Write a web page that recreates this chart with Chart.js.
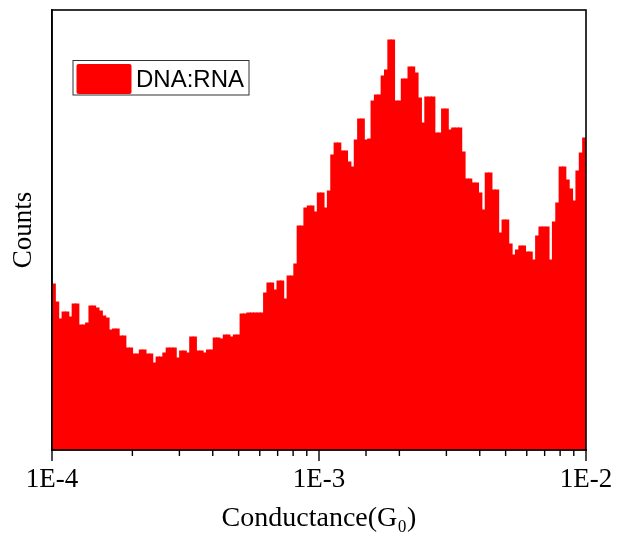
<!DOCTYPE html>
<html>
<head>
<meta charset="utf-8">
<style>
  html, body { margin: 0; padding: 0; background: #ffffff; }
  #wrap { width: 617px; height: 535px; position: relative; }
</style>
<script src="https://cdn.jsdelivr.net/npm/chart.js@4.4.0/dist/chart.umd.min.js"></script>
</head>
<body>
<div id="wrap"><canvas id="c" width="617" height="535"></canvas></div>
<script>
// ---- data ----
const seriesLabel = 'DNA:RNA';
const xAxisTitle = 'Conductance(G\u2080)';
const yAxisTitle = 'Counts';
const xMin = 1e-4;
const xMax = 1e-2;
const tickLabelFormat = (exp) => '1E' + exp;   // decade labels: 1E-4, 1E-3, 1E-2
const counts = [
  166,148,131,138,138,133,146,146,125,125,127,144,144,142,139,134,132,120,121,121,
  114,114,102,102,96,96,100,100,96,96,87,93,93,97,102,102,102,92,99,99,
  97,113,113,99,99,97,100,100,112,112,111,115,115,113,115,115,136,136,137,137,
  137,137,137,157,167,167,160,169,169,151,174,174,186,224,224,242,244,244,238,257,
  257,242,259,295,307,307,299,299,288,283,310,331,331,310,311,349,355,355,374,380,
  410,410,349,349,371,371,383,383,377,352,327,353,353,353,317,317,341,341,320,
  322,322,322,298,271,271,267,267,257,240,277,277,260,260,217,230,230,206,195,200,
  204,204,198,198,190,214,223,223,223,190,228,247,283,283,270,261,249,279,297,312
];
const yMax = 440;

// bin centres: equal-width bins on the log axis between xMin and xMax
const lmin = Math.log10(xMin), lmax = Math.log10(xMax);
const binCenters = counts.map((_, i) => Math.pow(10, lmin + (i + 0.5) * (lmax - lmin) / counts.length));
const points = counts.map((c, i) => ({ x: binCenters[i], y: c }));

const serif = "'Liberation Serif', 'Times New Roman', serif";
const sans = "'Liberation Sans', Arial, sans-serif";

const isDecade = (v) => { const e = Math.log10(v); return Math.abs(e - Math.round(e)) < 1e-6; };

const framePlugin = {
  id: 'frame',
  afterDatasetsDraw(chart) {
    const { ctx, chartArea: a } = chart;
    ctx.save();
    ctx.strokeStyle = '#000';
    ctx.lineWidth = 1.6;
    ctx.strokeRect(a.left, a.top, a.right - a.left, a.bottom - a.top);
    // tick marks (outward), major longer than minor
    const xs = chart.scales.x;
    ctx.lineWidth = 1.4;
    xs.ticks.forEach(t => {
      const px = xs.getPixelForValue(t.value);
      const len = isDecade(t.value) ? 11 : 6;
      ctx.beginPath();
      ctx.moveTo(px, a.bottom);
      ctx.lineTo(px, a.bottom + len);
      ctx.stroke();
    });
    ctx.restore();
  }
};

const legendPlugin = {
  id: 'boxLegend',
  afterDraw(chart) {
    const { ctx, chartArea: a } = chart;
    const ds = chart.data.datasets[0];
    const bx = a.left + 21, by = a.top + 50.5, bw = 176, bh = 34.5;
    ctx.save();
    ctx.strokeStyle = '#333';
    ctx.lineWidth = 1;
    ctx.strokeRect(bx, by, bw, bh);
    ctx.fillStyle = ds.backgroundColor;
    ctx.beginPath();
    ctx.roundRect(bx + 3.5, by + 3.5, 55, 30, 2);
    ctx.fill();
    ctx.fillStyle = '#000';
    ctx.font = '24px ' + sans;
    ctx.textBaseline = 'alphabetic';
    ctx.textAlign = 'left';
    ctx.fillText(ds.label, bx + 63, by + 26);
    ctx.restore();
  }
};

new Chart(document.getElementById('c'), {
  type: 'bar',
  data: {
    datasets: [{
      label: seriesLabel,
      data: points,
      backgroundColor: '#ff0000',
      borderWidth: 0,
      barPercentage: 1,
      categoryPercentage: 1,
      inflateAmount: 0.5
    }]
  },
  options: {
    responsive: false,
    animation: false,
    devicePixelRatio: 1,
    layout: { padding: { top: 10, right: 31, left: 0, bottom: 0 } },
    plugins: { legend: { display: false }, tooltip: { enabled: false } },
    scales: {
      x: {
        type: 'logarithmic',
        min: xMin,
        max: xMax,
        offset: false,
        grid: { display: false },
        border: { display: true, color: '#000', width: 1.6 },
        ticks: {
          autoSkip: false,
          maxRotation: 0,
          minRotation: 0,
          padding: 6,
          color: '#000',
          font: { family: serif, size: 27 },
          callback: (v) => isDecade(v) ? tickLabelFormat(Math.round(Math.log10(v))) : ''
        },
        title: {
          display: true,
          text: xAxisTitle,
          color: '#000',
          font: { family: serif, size: 28 },
          padding: { top: 0, bottom: 0 }
        },
        afterFit(s) { s.height = 85; s.paddingLeft = 0; s.paddingRight = 0; }
      },
      y: {
        min: 0,
        max: yMax,
        grid: { display: false },
        border: { display: true, color: '#000', width: 1.6 },
        ticks: { display: false },
        title: {
          display: true,
          text: yAxisTitle,
          color: '#000',
          font: { family: serif, size: 27 },
          padding: { top: 8, bottom: 0 }
        },
        afterFit(s) { s.width = 52; s.paddingTop = 0; s.paddingBottom = 0; }
      }
    }
  },
  plugins: [framePlugin, legendPlugin]
});
</script>
</body>
</html>
